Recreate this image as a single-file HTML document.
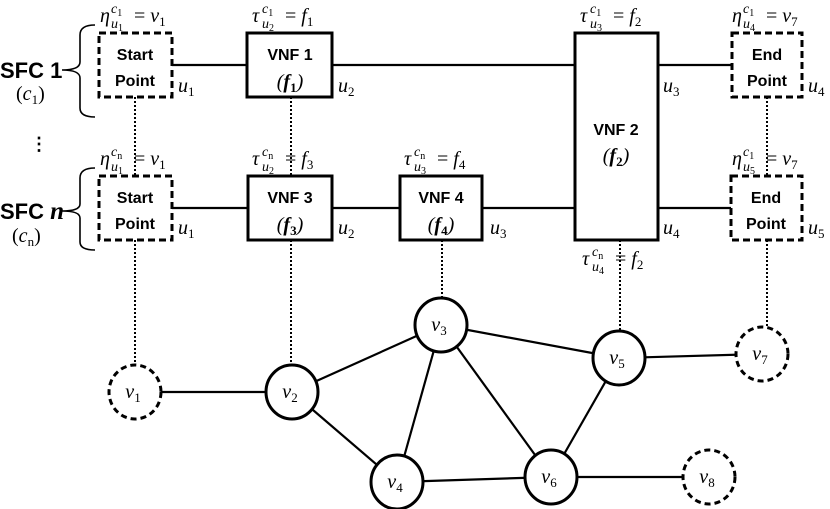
<!DOCTYPE html>
<html><head><meta charset="utf-8"><style>
html,body{margin:0;padding:0;background:#fff;}
svg{display:block;}
.m{font-family:"Liberation Serif",serif;font-style:italic;font-size:20px;}
.sm{font-family:"Liberation Serif",serif;font-style:italic;font-size:14px;}
.ss{font-size:10px;font-style:normal;}
.s{font-size:13px;font-style:normal;}
.b{font-family:"Liberation Sans",sans-serif;font-weight:bold;font-size:16px;}
.n{font-style:normal;}
</style></head><body>
<svg width="830" height="509" viewBox="0 0 830 509" xmlns="http://www.w3.org/2000/svg">
<g stroke="#000" fill="none">
<g stroke-width="2.2">
<line x1="172" y1="65" x2="247" y2="65"/><line x1="332" y1="65" x2="575" y2="65"/><line x1="658" y1="65" x2="732" y2="65"/>
<line x1="172" y1="208" x2="248" y2="208"/><line x1="332" y1="208" x2="400" y2="208"/><line x1="482" y1="208" x2="575" y2="208"/><line x1="658" y1="208" x2="731" y2="208"/>
</g>
<g stroke-width="2" stroke-dasharray="2,2">
<line x1="135" y1="97" x2="135" y2="176"/><line x1="135" y1="240" x2="135" y2="365"/>
<line x1="291" y1="97" x2="291" y2="176"/><line x1="291" y1="240" x2="291" y2="364"/>
<line x1="442" y1="240" x2="442" y2="297"/>
<line x1="620" y1="240" x2="620" y2="331"/>
<line x1="767" y1="97" x2="767" y2="176"/><line x1="767" y1="240" x2="767" y2="328"/>
</g>
<g stroke-width="3">
<rect x="247" y="33" width="85" height="64" fill="#fff"/>
<rect x="248" y="176" width="84" height="64" fill="#fff"/>
<rect x="400" y="176" width="82" height="64" fill="#fff"/>
<rect x="575" y="33" width="83" height="207" fill="#fff"/>
</g>
<g stroke-width="3" stroke-dasharray="7,4">
<rect x="99" y="33" width="73" height="64" fill="#fff"/>
<rect x="99" y="176" width="73" height="64" fill="#fff"/>
<rect x="732" y="33" width="70" height="64" fill="#fff"/>
<rect x="731" y="176" width="71" height="64" fill="#fff"/>
</g>
<g stroke-width="1.6">
<path d="M95,25 Q80,25 80,35 L80,62 Q80,70 62,70 Q80,70 80,78 L80,108 Q80,117 95,117"/>
<path d="M95,168 Q80,168 80,178 L80,204 Q80,211 62,211 Q80,211 80,218 L80,242 Q80,250 95,250"/>
</g>
<g stroke-width="2.2">
<line x1="135" y1="392" x2="292" y2="392"/>
<line x1="292" y1="392" x2="441" y2="325"/>
<line x1="292" y1="392" x2="397" y2="482"/>
<line x1="441" y1="325" x2="397" y2="482"/>
<line x1="441" y1="325" x2="619" y2="358"/>
<line x1="441" y1="325" x2="551" y2="477"/>
<line x1="397" y1="482" x2="551" y2="477"/>
<line x1="619" y1="358" x2="551" y2="477"/>
<line x1="619" y1="358" x2="762" y2="354"/>
<line x1="551" y1="477" x2="709" y2="477"/>
</g>
<g stroke-width="3" fill="#fff">
<ellipse cx="292" cy="392" rx="26" ry="27"/>
<ellipse cx="441" cy="325" rx="26" ry="27"/>
<ellipse cx="397" cy="482" rx="26" ry="27"/>
<ellipse cx="619" cy="358" rx="26" ry="27"/>
<ellipse cx="551" cy="477" rx="26" ry="27"/>
</g>
<g stroke-width="3" fill="#fff" stroke-dasharray="6,4">
<ellipse cx="135" cy="392" rx="26" ry="27"/>
<ellipse cx="762" cy="354" rx="26" ry="27"/>
<ellipse cx="709" cy="477" rx="26" ry="27"/>
</g>
</g>
<g class="b" text-anchor="middle">
<text x="135" y="60">Start</text><text x="135" y="86">Point</text>
<text x="135" y="203">Start</text><text x="135" y="229">Point</text>
<text x="767" y="60">End</text><text x="767" y="86">Point</text>
<text x="766" y="203">End</text><text x="766" y="229">Point</text>
<text x="290" y="60">VNF 1</text><text x="290" y="203">VNF 3</text>
<text x="441" y="203">VNF 4</text><text x="616" y="135">VNF 2</text>
</g>
<g class="m" text-anchor="middle" font-style="normal">
<text x="290" y="88">(<tspan font-style="italic" font-weight="bold">f</tspan><tspan class="s" font-weight="bold" dy="4">1</tspan><tspan dy="-4">)</tspan></text>
<text x="290" y="231">(<tspan font-style="italic" font-weight="bold">f</tspan><tspan class="s" font-weight="bold" dy="4">3</tspan><tspan dy="-4">)</tspan></text>
<text x="441" y="231">(<tspan font-style="italic" font-weight="bold">f</tspan><tspan class="s" font-weight="bold" dy="4">4</tspan><tspan dy="-4">)</tspan></text>
<text x="616" y="162">(<tspan font-style="italic" font-weight="bold">f</tspan><tspan class="s" font-weight="bold" dy="4">2</tspan><tspan dy="-4">)</tspan></text>
</g>
<text x="0" y="78" font-family="Liberation Sans,sans-serif" font-weight="bold" font-size="22">SFC 1</text>
<text x="16" y="100" class="m"><tspan class="n">(</tspan>c<tspan class="s" dy="4">1</tspan><tspan class="n" dy="-4">)</tspan></text>
<text x="0" y="219" font-family="Liberation Sans,sans-serif" font-weight="bold" font-size="22">SFC <tspan font-family="Liberation Serif,serif" font-style="italic" font-size="25">n</tspan></text>
<text x="12" y="242" class="m"><tspan class="n">(</tspan>c<tspan class="s" font-style="italic" dy="4">n</tspan><tspan class="n" dy="-4">)</tspan></text>
<text x="30" y="150" font-family="Liberation Sans,sans-serif" font-weight="bold" font-size="18">⋮</text>
<g class="m">
<text x="178" y="92">u<tspan class="s" dy="4">1</tspan></text>
<text x="338" y="92">u<tspan class="s" dy="4">2</tspan></text>
<text x="663" y="92">u<tspan class="s" dy="4">3</tspan></text>
<text x="808" y="92">u<tspan class="s" dy="4">4</tspan></text>
<text x="178" y="234">u<tspan class="s" dy="4">1</tspan></text>
<text x="338" y="234">u<tspan class="s" dy="4">2</tspan></text>
<text x="490" y="234">u<tspan class="s" dy="4">3</tspan></text>
<text x="663" y="234">u<tspan class="s" dy="4">4</tspan></text>
<text x="808" y="234">u<tspan class="s" dy="4">5</tspan></text>
</g>
<g>
<text x="100" y="22" class="m">η</text><text x="111" y="13" class="sm">c<tspan class="ss" dy="3">1</tspan></text><text x="111" y="28" class="sm">u<tspan class="ss" dy="3">1</tspan></text><text x="134" y="22" class="m"><tspan class="n">=</tspan> v<tspan class="s" dy="4">1</tspan></text>
<text x="252" y="22" class="m">τ</text><text x="262" y="13" class="sm">c<tspan class="ss" dy="3">1</tspan></text><text x="262" y="28" class="sm">u<tspan class="ss" dy="3">2</tspan></text><text x="285" y="22" class="m"><tspan class="n">=</tspan> f<tspan class="s" dy="4">1</tspan></text>
<text x="580" y="22" class="m">τ</text><text x="590" y="13" class="sm">c<tspan class="ss" dy="3">1</tspan></text><text x="590" y="28" class="sm">u<tspan class="ss" dy="3">3</tspan></text><text x="613" y="22" class="m"><tspan class="n">=</tspan> f<tspan class="s" dy="4">2</tspan></text>
<text x="732" y="22" class="m">η</text><text x="743" y="13" class="sm">c<tspan class="ss" dy="3">1</tspan></text><text x="743" y="28" class="sm">u<tspan class="ss" dy="3">4</tspan></text><text x="766" y="22" class="m"><tspan class="n">=</tspan> v<tspan class="s" dy="4">7</tspan></text>
<text x="100" y="165" class="m">η</text><text x="111" y="156" class="sm">c<tspan class="ss" dy="3" font-style="italic">n</tspan></text><text x="111" y="171" class="sm">u<tspan class="ss" dy="3">1</tspan></text><text x="134" y="165" class="m"><tspan class="n">=</tspan> v<tspan class="s" dy="4">1</tspan></text>
<text x="252" y="165" class="m">τ</text><text x="262" y="156" class="sm">c<tspan class="ss" dy="3" font-style="italic">n</tspan></text><text x="262" y="171" class="sm">u<tspan class="ss" dy="3">2</tspan></text><text x="285" y="165" class="m"><tspan class="n">=</tspan> f<tspan class="s" dy="4">3</tspan></text>
<text x="404" y="165" class="m">τ</text><text x="414" y="156" class="sm">c<tspan class="ss" dy="3" font-style="italic">n</tspan></text><text x="414" y="171" class="sm">u<tspan class="ss" dy="3">3</tspan></text><text x="437" y="165" class="m"><tspan class="n">=</tspan> f<tspan class="s" dy="4">4</tspan></text>
<text x="732" y="165" class="m">η</text><text x="743" y="156" class="sm">c<tspan class="ss" dy="3">1</tspan></text><text x="743" y="171" class="sm">u<tspan class="ss" dy="3">5</tspan></text><text x="766" y="165" class="m"><tspan class="n">=</tspan> v<tspan class="s" dy="4">7</tspan></text>
<text x="582" y="265" class="m">τ</text><text x="592" y="256" class="sm">c<tspan class="ss" dy="3" font-style="italic">n</tspan></text><text x="592" y="271" class="sm">u<tspan class="ss" dy="3">4</tspan></text><text x="615" y="265" class="m"><tspan class="n">=</tspan> f<tspan class="s" dy="4">2</tspan></text>
</g>
<g class="m" text-anchor="middle">
<text x="133" y="398">v<tspan class="s" dy="4">1</tspan></text>
<text x="290" y="398">v<tspan class="s" dy="4">2</tspan></text>
<text x="439" y="331">v<tspan class="s" dy="4">3</tspan></text>
<text x="395" y="488">v<tspan class="s" dy="4">4</tspan></text>
<text x="617" y="364">v<tspan class="s" dy="4">5</tspan></text>
<text x="549" y="483">v<tspan class="s" dy="4">6</tspan></text>
<text x="760" y="360">v<tspan class="s" dy="4">7</tspan></text>
<text x="707" y="483">v<tspan class="s" dy="4">8</tspan></text>
</g>
</svg>
</body></html>
